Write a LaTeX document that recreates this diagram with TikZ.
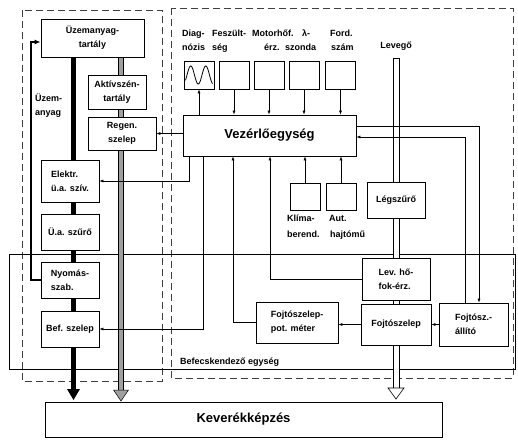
\documentclass[tikz,border=0pt]{standalone}
\usepackage{fontspec}
\setmainfont{Liberation Sans}
\usetikzlibrary{arrows.meta,calc}
\pgfdeclarelayer{background}
\pgfsetlayers{background,main}
\newcommand\smallbf{\bfseries\fontsize{9}{14}\selectfont}
\newcommand\bigbf{\bfseries\fontsize{13}{15}\selectfont}
\begin{document}
\begin{tikzpicture}[x=1pt,y=-1pt,
  box/.style={draw, fill=white, line width=0.8pt, inner sep=1pt, align=left, font=\smallbf},
  cbox/.style={box, align=center},
  lbl/.style={inner sep=0pt, anchor=base west, font=\smallbf},
  conn/.style={line width=0.6pt, -{Latex[length=4pt,width=3pt]}},
  dashbox/.style={line width=0.7pt, black!75, dash pattern=on 7pt off 4pt},
  frame/.style={line width=0.6pt},
  retline/.style={line width=1.4pt, -{Latex[length=6pt,width=5pt]}}
]
\useasboundingbox (0,0) rectangle (518,439);

% left column
\node[cbox, minimum width=103pt, minimum height=38pt] (tank) at (92.5,38) {Üzemanyag-\\tartály};
\node[cbox, minimum width=58pt, minimum height=34pt] (aktiv) at (117,92) {Aktívszén-\\tartály};
\node[cbox, minimum width=68pt, minimum height=33pt] (regen) at (122,133.5) {Regen.\\szelep};
\node[box, minimum width=58pt, minimum height=42pt] (elektr) at (70,181) {Elektr.\\ü.a. szív.};
\node[box, minimum width=58pt, minimum height=36pt] (szuro) at (70,232) {Ü.a. szűrő};
\node[box, minimum width=58pt, minimum height=36pt] (nyomas) at (70,280) {Nyomás-\\szab.};
\node[box, minimum width=58pt, minimum height=36pt] (bef) at (70,329) {Bef. szelep};
\node[cbox, minimum width=397pt, minimum height=35pt, font=\bigbf] (kever) at (243.5,419.5) {Keverékképzés};

% control unit and sensors
\node[cbox, minimum width=173pt, minimum height=41pt, font=\bigbf] (vez) at (269.5,135.5) {Vezérlőegység};
\node[box, minimum width=30pt, minimum height=28pt] (s1) at (199,75) {};
\node[box, minimum width=30pt, minimum height=28pt] (s2) at (234,75) {};
\node[box, minimum width=30pt, minimum height=28pt] (s3) at (269,75) {};
\node[box, minimum width=30pt, minimum height=28pt] (s4) at (304,75) {};
\node[box, minimum width=30pt, minimum height=28pt] (s5) at (340.5,75) {};
\draw[line width=0.8pt] plot[domain=185.5:212.5, samples=80] (\x, {75-9*sin(360*(\x-187)/15)});
\node[box, minimum width=30pt, minimum height=27pt] (klima) at (305,196.5) {};
\node[box, minimum width=30pt, minimum height=27pt] (aut) at (341,196.5) {};

% air path
\node[box, minimum width=58pt, minimum height=36pt] (legszuro) at (396,200) {Légszűrő};
\node[box, minimum width=68pt, minimum height=42pt] (levho) at (396,279) {Lev. hő-\\fok-érz.};
\node[box, minimum width=70pt, minimum height=41pt] (fojto) at (396,324.5) {Fojtószelep};
\node[box, minimum width=69pt, minimum height=43pt] (allito) at (473.5,324.5) {Fojtósz.-\\állító};
\node[box, minimum width=82pt, minimum height=41pt] (pot) at (297,322.5) {Fojtószelep-\\pot. méter};

% helper coordinates
\coordinate (fuelend) at (73.5,400);
\coordinate (carbend) at (121,401);
\coordinate (airend) at (396,399);
\coordinate (airtop) at (396,58);
\coordinate (c1) at (189,181);
\coordinate (c2) at (203,330);
\coordinate (c3) at (233,300);
\coordinate (c4) at (270,280);
\coordinate (c5) at (479,126);
\coordinate (c6) at (465,137);
\coordinate (c7) at (31,42);

% background: frames and pipes
\begin{pgfonlayer}{background}
  \draw[dashbox] (22,10) rectangle (162,381);
  \draw[dashbox] (171,8) rectangle (513,378);
  \draw[frame] (9,254) rectangle (515,369);
  % fuel (black)
  \draw[line width=5pt] (tank.south -| fuelend) -- ([yshift=10pt]fuelend);
  \fill (fuelend) -- ++(-6.5,-11) -- ++(13,0) -- cycle;
  % carbon canister (grey)
  \filldraw[fill=gray!75, draw=black, line width=0.5pt] ($(tank.south -| carbend)+(-2.5,0)$) rectangle ($(carbend)+(2.5,-11)$);
  \filldraw[fill=gray!75, draw=black, line width=0.5pt] (carbend) -- ++(-7.5,-11) -- ++(15,0) -- cycle;
  % air (open)
  \filldraw[fill=white, draw=black, line width=0.6pt] ($(airtop)+(-3,0)$) rectangle ($(airend)+(3,-11)$);
  \filldraw[fill=white, draw=black, line width=0.6pt] (airend) -- ++(-8,-11) -- ++(16,0) -- cycle;
\end{pgfonlayer}

% connectors
\draw[conn] (vez.north -| s1) -- (s1.south);
\draw[conn] (s2.south) -- (vez.north -| s2);
\draw[conn] (s3.south) -- (vez.north -| s3);
\draw[conn] (s4.south) -- (vez.north -| s4);
\draw[conn] (s5.south) -- (vez.north -| s5);
\draw[conn] (klima.north) -- (vez.south -| klima.north);
\draw[conn] (aut.north) -- (vez.south -| aut.north);
\draw[conn] (vez.west |- regen.east) -- (regen.east);
\draw[conn] (vez.south -| c1) |- (elektr.east);
\draw[conn] (vez.south -| c2) |- (bef.east);
\draw[conn] (pot.west) -| (vez.south -| c3);
\draw[conn] (levho.west) -| (vez.south -| c4);
\draw[conn] (c5 -| vez.east) -| (allito.north -| c5);
\draw[conn] (allito.north -| c6) |- (vez.east |- c6);
\draw[conn] (allito.west) -- (fojto.east);
\draw[conn] (fojto.west) -- (fojto.west -| pot.east);
\draw[retline] (nyomas.west) -| (c7) -- (c7 -| tank.west);

% labels
\node[lbl] at (35,101) {Üzem-};
\node[lbl] at (35,115) {anyag};
\node[lbl] at (182,36) {Diag-};
\node[lbl] at (182,50) {nózis};
\node[lbl] at (212,36) {Feszült-};
\node[lbl] at (212,50) {ség};
\node[lbl] at (252,36) {Motorhőf.};
\node[lbl] at (264,50) {érz.};
\node[lbl] at (302,36) {λ-};
\node[lbl] at (285,50) {szonda};
\node[lbl] at (330,36) {Ford.};
\node[lbl] at (331,50) {szám};
\node[lbl, anchor=base] at (396,48) {Levegő};
\node[lbl] at (287,221) {Klíma-};
\node[lbl] at (287,237) {berend.};
\node[lbl] at (329,221) {Aut.};
\node[lbl] at (330,237) {hajtómű};
\node[lbl] at (180,364) {Befecskendező egység};
\end{tikzpicture}
\end{document}
